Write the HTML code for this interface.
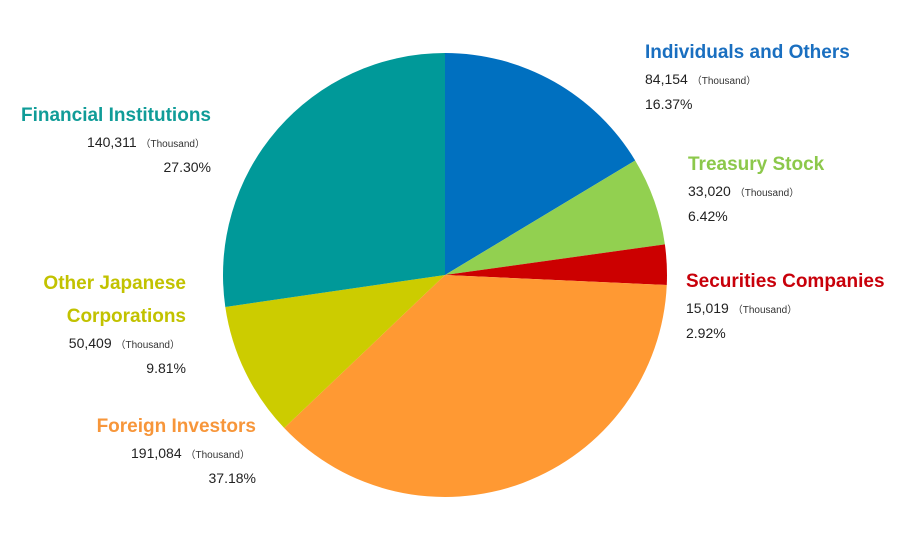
<!DOCTYPE html>
<html><head><meta charset="utf-8"><style>
html,body{margin:0;padding:0;background:#fff;}
svg{display:block;font-family:"Liberation Sans","Noto Sans CJK JP",sans-serif;}
.t{font-weight:bold;font-size:19px;}
.n{font-size:14px;fill:#222;}
.k{font-size:10px;fill:#333;}
</style></head><body>
<svg id="chart" width="900" height="545" viewBox="0 0 900 545"></svg>
<script>
const categories=["Individuals and Others","Treasury Stock","Securities Companies","Foreign Investors","Other Japanese Corporations","Financial Institutions"];
const shares=[84154,33020,15019,191084,50409,140311];
const percents=["16.37%","6.42%","2.92%","37.18%","9.81%","27.30%"];
const shareLabels=["84,154","33,020","15,019","191,084","50,409","140,311"];
const colors=["#0070C0","#92D050","#CC0000","#FF9933","#CCCC00","#009999"];
const titleColors=["#1a6fc0","#8cc84b","#c8000a","#f7963a","#c2c200","#109c98"];
// label layout: [x, titleY, anchor]
const layout=[[645,58,"start"],[688,170,"start"],[686,287,"start"],[256,432,"end"],[186,289,"end"],[211,121,"end"]];
const svg=document.getElementById('chart');
const NS="http://www.w3.org/2000/svg";
const cx=445,cy=275,r=222;
const total=shares.reduce((a,b)=>a+b,0);
let a0=-Math.PI/2;
shares.forEach((v,i)=>{
  const a1=a0+v/total*2*Math.PI;
  const x0=cx+r*Math.cos(a0),y0=cy+r*Math.sin(a0),x1=cx+r*Math.cos(a1),y1=cy+r*Math.sin(a1);
  const p=document.createElementNS(NS,'path');
  p.setAttribute('d',`M${cx},${cy}L${x0},${y0}A${r},${r} 0 ${a1-a0>Math.PI?1:0} 1 ${x1},${y1}Z`);
  p.setAttribute('fill',colors[i]);
  
  
  svg.appendChild(p);
  a0=a1;
});
function txt(x,y,cls,anchor,content,fill){
  const t=document.createElementNS(NS,'text');
  t.setAttribute('x',x);t.setAttribute('y',y);t.setAttribute('class',cls);t.setAttribute('text-anchor',anchor);
  if(fill)t.setAttribute('fill',fill);
  t.innerHTML=content;
  svg.appendChild(t);return t;
}
categories.forEach((c,i)=>{
  const [x,y,an]=layout[i];
  const slug=c.toLowerCase().replace(/ /g,'-');
  let ty=y;
  if(c==="Other Japanese Corporations"){
    const t1=txt(x,y,'t',an,"Other Japanese",titleColors[i]);
    
    
    const t2=txt(x,y+33,'t',an,"Corporations",titleColors[i]);
    
    
    ty=y+33;
  } else {
    const t1=txt(x,y,'t',an,c,titleColors[i]);
    
    
  }
  const nx=an==="end"?x-6:x;
  const t3=txt(nx,ty+26,'n',an,shareLabels[i]+' <tspan class="k">（Thousand）</tspan>');
  
  
  const t4=txt(x,ty+51,'n',an,percents[i]);
  
  
});
</script>
</body></html>
